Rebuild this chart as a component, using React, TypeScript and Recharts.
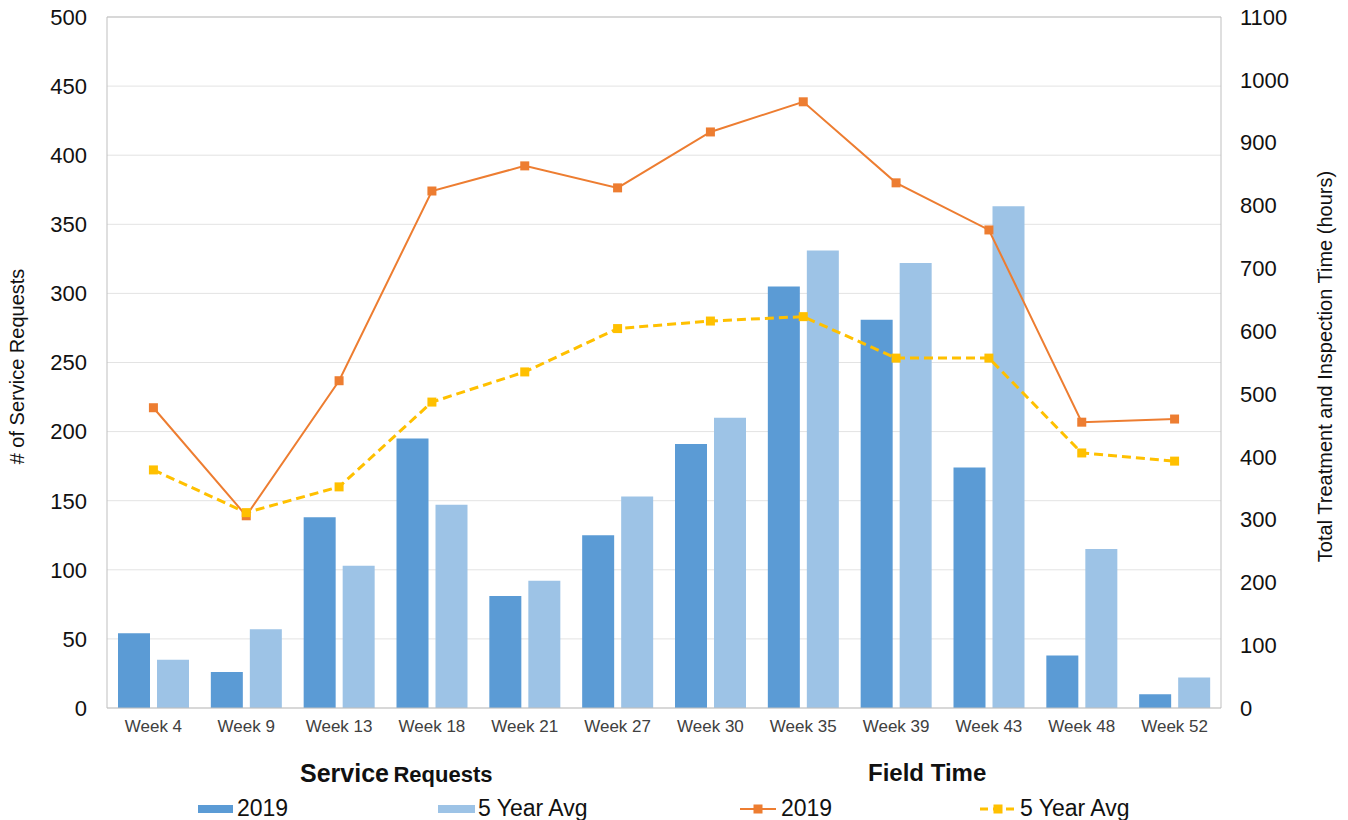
import {
  ComposedChart,
  Bar,
  Line,
  XAxis,
  YAxis,
  CartesianGrid,
  ReferenceLine,
} from 'recharts'

document.body.style.margin = '0'

const FONT = '"Liberation Sans", Arial, sans-serif'

const weeks = ['Week 4', 'Week 9', 'Week 13', 'Week 18', 'Week 21', 'Week 27', 'Week 30', 'Week 35', 'Week 39', 'Week 43', 'Week 48', 'Week 52']

// service requests (left axis)
const requests2019 = [54, 26, 138, 195, 81, 125, 191, 305, 281, 174, 38, 10]
const requestsAvg = [35, 57, 103, 147, 92, 153, 210, 331, 322, 363, 115, 22]

// field time, hours (right axis)
const field2019 = [478, 306, 521, 823, 863, 828, 917, 965, 836, 761, 455, 460]
const fieldAvg = [379, 311, 352, 487, 535, 604, 616, 623, 557, 557, 406, 393]

const leftTicks = [0, 50, 100, 150, 200, 250, 300, 350, 400, 450, 500]
const rightTicks = [0, 100, 200, 300, 400, 500, 600, 700, 800, 900, 1000, 1100]

const BLUE = '#5B9BD5'
const LIGHT_BLUE = '#9DC3E6'
const ORANGE = '#ED7D31'
const YELLOW = '#FFC000'

const data = weeks.map((week, i) => ({
  week,
  req2019: requests2019[i],
  reqAvg: requestsAvg[i],
  ft2019: field2019[i],
  ftAvg: fieldAvg[i],
}))

function AxisTitle(props: any) {
  const { viewBox, title, dx } = props
  if (!viewBox) return null
  const cx = viewBox.x + dx
  const cy = viewBox.y + viewBox.height / 2 + 4
  return (
    <text
      x={cx}
      y={cy}
      transform={`rotate(-90 ${cx} ${cy})`}
      textAnchor="middle"
      dominantBaseline="central"
      fontSize={20}
      fontFamily={FONT}
      fill="#111"
    >
      {title}
    </text>
  )
}

const squareDot = (color: string) => (props: any) => {
  const { cx, cy, index } = props
  if (cx == null || cy == null) return <g key={index} />
  return <rect key={index} x={cx - 4.5} y={cy - 4.5} width={9} height={9} fill={color} />
}

const legendText: React.CSSProperties = {
  position: 'absolute',
  top: 795,
  fontSize: 23,
  lineHeight: '26px',
  fontFamily: FONT,
  color: '#111',
}

function Legends() {
  return (
    <>
      <div style={{ position: 'absolute', left: 300, top: 760, fontFamily: FONT, fontWeight: 'bold', color: '#111', lineHeight: '26px' }}>
        <span style={{ fontSize: 25 }}>Service</span> <span style={{ fontSize: 22 }}>Requests</span>
      </div>
      <div style={{ position: 'absolute', left: 868, top: 760, fontFamily: FONT, fontWeight: 'bold', color: '#111', fontSize: 24, lineHeight: '26px' }}>
        Field Time
      </div>

      <div style={{ position: 'absolute', left: 198, top: 805, width: 35, height: 8, background: BLUE }} />
      <div style={{ ...legendText, left: 237 }}>2019</div>

      <div style={{ position: 'absolute', left: 438, top: 805, width: 37, height: 8, background: LIGHT_BLUE }} />
      <div style={{ ...legendText, left: 478 }}>5 Year Avg</div>

      <svg style={{ position: 'absolute', left: 738, top: 800 }} width={40} height={18}>
        <line x1={2} y1={9} x2={38} y2={9} stroke={ORANGE} strokeWidth={2} />
        <rect x={15.5} y={4.5} width={9} height={9} fill={ORANGE} />
      </svg>
      <div style={{ ...legendText, left: 781 }}>2019</div>

      <svg style={{ position: 'absolute', left: 978, top: 800 }} width={40} height={18}>
        <line x1={2} y1={9} x2={38} y2={9} stroke={YELLOW} strokeWidth={3} strokeDasharray="8 5" />
        <rect x={15.5} y={4.5} width={9} height={9} fill={YELLOW} />
      </svg>
      <div style={{ ...legendText, left: 1020 }}>5 Year Avg</div>
    </>
  )
}

export default function App() {
  return (
    <div style={{ position: 'relative', width: 1348, height: 820, background: '#fff' }}>
      <ComposedChart
        width={1348}
        height={820}
        data={data}
        margin={{ top: 17, right: 0, bottom: 0, left: 0 }}
        barGap={7}
        barCategoryGap="12%"
      >
        <CartesianGrid yAxisId="left" vertical={false} stroke="#E3E3E3" />
        <XAxis
          dataKey="week"
          height={112}
          interval={0}
          axisLine={{ stroke: '#BFBFBF' }}
          tickLine={false}
          tickSize={0}
          tickMargin={12}
          tick={{ fontSize: 17, fill: '#404040', fontFamily: FONT }}
        />
        <YAxis
          yAxisId="left"
          orientation="left"
          width={107}
          domain={[0, 500]}
          ticks={leftTicks}
          interval={0}
          axisLine={{ stroke: '#BFBFBF' }}
          tickLine={false}
          tickSize={0}
          tickMargin={20}
          tick={{ fontSize: 22, fill: '#111', fontFamily: FONT }}
          label={<AxisTitle title="# of Service Requests" dx={17} />}
        />
        <YAxis
          yAxisId="right"
          orientation="right"
          width={127}
          domain={[0, 1100]}
          ticks={rightTicks}
          interval={0}
          axisLine={{ stroke: '#BFBFBF' }}
          tickLine={false}
          tickSize={0}
          tickMargin={19}
          tick={{ fontSize: 22, fill: '#111', fontFamily: FONT }}
          label={<AxisTitle title="Total Treatment and Inspection Time (hours)" dx={104} />}
        />
        <ReferenceLine yAxisId="left" y={500} stroke="#BFBFBF" />
        <Bar yAxisId="left" dataKey="req2019" fill={BLUE} barSize={32} isAnimationActive={false} />
        <Bar yAxisId="left" dataKey="reqAvg" fill={LIGHT_BLUE} barSize={32} isAnimationActive={false} />
        <Line
          yAxisId="right"
          type="linear"
          dataKey="ft2019"
          stroke={ORANGE}
          strokeWidth={2}
          dot={squareDot(ORANGE)}
          activeDot={false}
          isAnimationActive={false}
        />
        <Line
          yAxisId="right"
          type="linear"
          dataKey="ftAvg"
          stroke={YELLOW}
          strokeWidth={3}
          strokeDasharray="9 5"
          dot={squareDot(YELLOW)}
          activeDot={false}
          isAnimationActive={false}
        />
      </ComposedChart>
      <Legends />
    </div>
  )
}
